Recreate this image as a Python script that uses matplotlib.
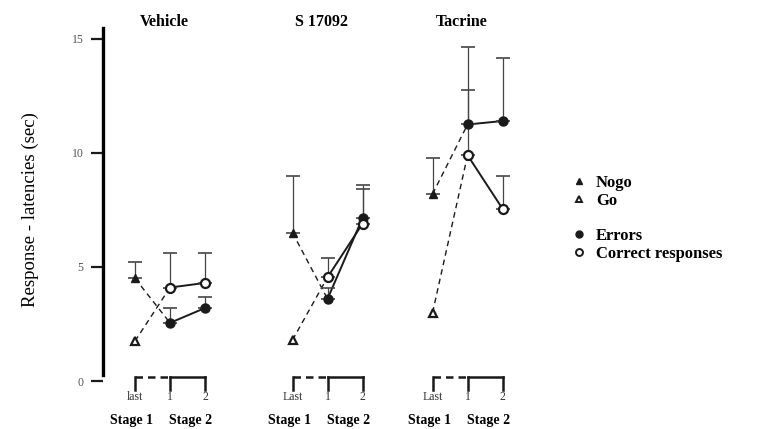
import numpy as np
import matplotlib
matplotlib.use('Agg')
import matplotlib.pyplot as plt
from matplotlib.lines import Line2D

plt.rcParams['font.family'] = ['Liberation Serif', 'DejaVu Serif']

# Data (seconds)
groups = ['Vehicle', 'S 17092', 'Tacrine']
last_labels = ['last', 'Last', 'Last']

nogo = [4.5, 6.5, 8.2]
nogo_top = [5.2, 9.0, 9.8]
go = [1.75, 1.8, 3.0]

# Stage 2, trials 1 and 2
errors = [[2.55, 3.2], [3.6, 7.15], [11.25, 11.4]]
errors_top = [[3.2, 3.7], [4.1, 8.6], [14.65, 14.15]]
correct = [[4.1, 4.3], [4.55, 6.9], [9.9, 7.55]]
correct_top = [[5.6, 5.6], [5.4, 8.4], [12.75, 9.0]]

# layout
group_start = [0, 4.5, 8.5]
ink = '#1a1a1a'

fig = plt.figure(figsize=(7.63, 4.29), dpi=100)
ax = fig.add_axes([103 / 763, 48 / 429, 457 / 763, 353 / 429])
ax.set_xlim(-0.914, 12.14)
ax.set_ylim(0, 15.48)

for i, g in enumerate(group_start):
    x_last, x1, x2 = g, g + 1, g + 2

    # dashed links from stage 1 to the first trial of stage 2
    ax.plot([x_last, x1], [nogo[i], errors[i][0]], ls=(0, (4, 3)), color=ink, lw=1.0)
    ax.plot([x_last, x1], [go[i], correct[i][0]], ls=(0, (4, 3)), color=ink, lw=1.0)
    # solid lines within stage 2
    ax.plot([x1, x2], errors[i], color=ink, lw=1.4)
    ax.plot([x1, x2], correct[i], color=ink, lw=1.4)

    # upward error bars
    ax.errorbar([x_last], [nogo[i]], yerr=[[0], [nogo_top[i] - nogo[i]]],
                fmt='none', ecolor='#444', elinewidth=0.9, capsize=5, capthick=1.2)
    ax.errorbar([x1, x2], errors[i],
                yerr=[[0, 0], np.array(errors_top[i]) - np.array(errors[i])],
                fmt='none', ecolor='#444', elinewidth=0.9, capsize=5, capthick=1.2)
    ax.errorbar([x1, x2], correct[i],
                yerr=[[0, 0], np.array(correct_top[i]) - np.array(correct[i])],
                fmt='none', ecolor='#444', elinewidth=0.9, capsize=5, capthick=1.2)

    # markers
    ax.plot([x_last], [nogo[i]], marker='^', ms=6, color=ink, ls='none', zorder=5)
    ax.plot([x_last], [go[i]], marker='^', ms=6, mfc='white', mec=ink, mew=1.6,
            ls='none', zorder=5)
    ax.plot([x1, x2], errors[i], marker='o', ms=6.5, color=ink, ls='none', zorder=5)
    ax.plot([x1, x2], correct[i], marker='o', ms=6.5, mfc='white', mec=ink, mew=1.6,
            ls='none', zorder=5)

    # group title
    ax.text(x1 - 0.17, 15.75, groups[i], ha='center', va='center', fontsize=11.5,
            fontweight='bold', clip_on=False)

    # bracket under the x positions
    yb, yt = 0.18, -0.4
    ax.plot([x_last, x1], [yb, yb], color=ink, lw=1.8, ls=(0, (3, 2)), clip_on=False)
    ax.plot([x1, x2], [yb, yb], color=ink, lw=1.8, clip_on=False)
    for xx in (x_last, x1, x2):
        ax.plot([xx, xx], [yb, yt], color=ink, lw=1.8, clip_on=False)
    for xx, lab in zip((x_last, x1, x2), (last_labels[i], '1', '2')):
        ax.text(xx, -0.72, lab, ha='center', va='center', fontsize=8.5,
                color='#333', clip_on=False)
    ax.text(x_last - 0.1, -1.72, 'Stage 1', ha='center', va='center',
            fontsize=10, fontweight='bold', clip_on=False)
    ax.text(x1 + 0.6, -1.72, 'Stage 2', ha='center', va='center',
            fontsize=10, fontweight='bold', clip_on=False)

# axis styling
for s in ('top', 'right', 'bottom'):
    ax.spines[s].set_visible(False)
ax.spines['left'].set_linewidth(2.4)
ax.spines['left'].set_bounds(0.25, 15.48)
ax.set_xticks([])
ax.set_yticks([0, 5, 10, 15])
ax.tick_params(axis='y', length=9, width=1.6, pad=5, labelsize=8.5,
               labelcolor='#555', color=ink)

fig.text(30 / 763, 1 - 210 / 429, 'Response - latencies (sec)', rotation=90,
         ha='center', va='center', fontsize=13.5)

# legend, in two blocks
h1 = [Line2D([], [], marker='^', ms=5, color=ink, ls='none'),
      Line2D([], [], marker='^', ms=5, mfc='white', mec=ink, mew=1.4, ls='none')]
h2 = [Line2D([], [], marker='o', ms=5, color=ink, ls='none'),
      Line2D([], [], marker='o', ms=5, mfc='white', mec=ink, mew=1.4, ls='none')]
kw = dict(loc='upper left', frameon=False, handlelength=1.0, handletextpad=0.5,
          labelspacing=0.12, borderpad=0, borderaxespad=0,
          bbox_transform=fig.transFigure,
          prop={'family': 'Liberation Serif', 'weight': 'bold', 'size': 12})
leg1 = ax.legend(h1, ['Nogo', 'Go'], bbox_to_anchor=(571 / 763, 1 - 175 / 429), **kw)
ax.add_artist(leg1)
ax.legend(h2, ['Errors', 'Correct responses'], bbox_to_anchor=(571 / 763, 1 - 228 / 429), **kw)

fig.savefig('out.png', dpi=100)
